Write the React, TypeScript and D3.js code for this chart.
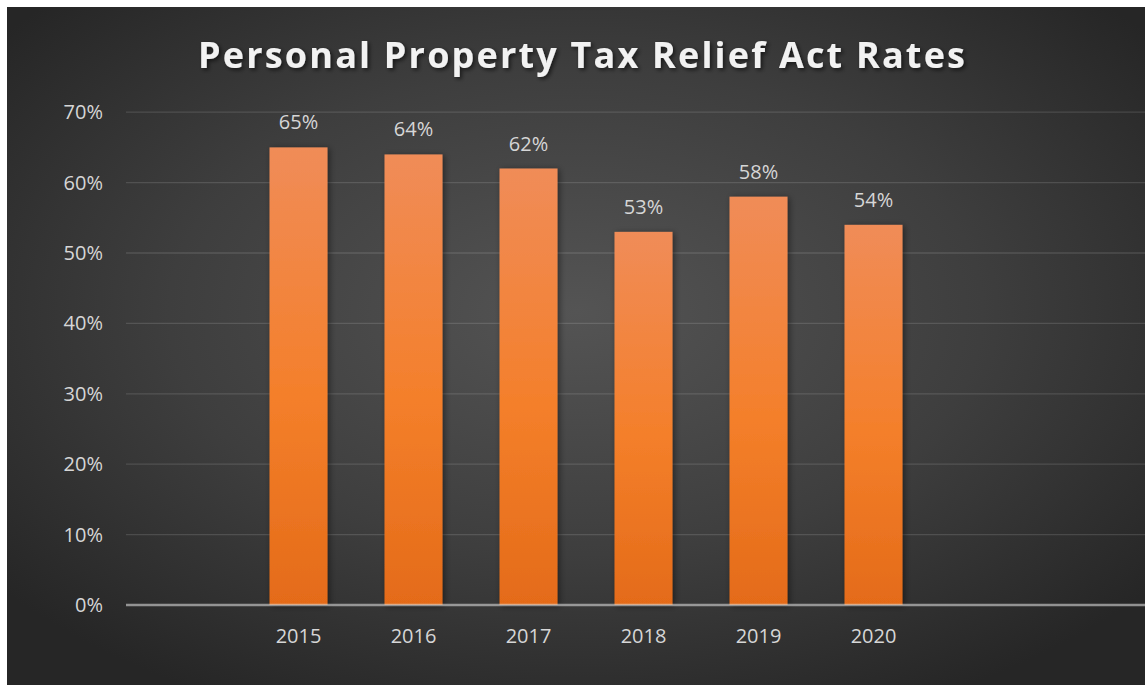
import React from "react";
import * as d3 from "d3";

const title = "Personal Property Tax Relief Act Rates";
const years = ["2015", "2016", "2017", "2018", "2019", "2020"];
const rates = [65, 64, 62, 53, 58, 54];
const yTicks = [0, 10, 20, 30, 40, 50, 60, 70];

const W = 1138;
const H = 678;
// offsets relative to svg placed at page (7,7)
const OX = 7;
const OY = 7;

export default function App() {
  const plotLeft = 126 - OX;
  const plotRight = W;
  const step = 115;
  const x = d3
    .scaleBand<string>()
    .domain(years)
    .range([plotLeft + step, plotLeft + step * 7])
    .paddingInner(0.496)
    .paddingOuter(0.248);
  const y = d3.scaleLinear().domain([0, 70]).range([605 - OY, 112.2 - OY]);
  const font = "'Open Sans', sans-serif";

  return (
    <svg
      width={W}
      height={H}
      style={{ position: "absolute", left: OX, top: OY, display: "block" }}
    >
      <defs>
        <radialGradient id="bg" cx="50%" cy="45%" r="65%">
          <stop offset="0%" stopColor="#545454" />
          <stop offset="55%" stopColor="#3e3e3e" />
          <stop offset="100%" stopColor="#262626" />
        </radialGradient>
        <linearGradient id="bar" x1="0" y1="0" x2="0" y2="1">
          <stop offset="0%" stopColor="#F08C58" />
          <stop offset="55%" stopColor="#F47F2A" />
          <stop offset="100%" stopColor="#E46B19" />
        </linearGradient>
        <filter id="barShadow" x="-30%" y="-10%" width="160%" height="120%">
          <feDropShadow dx="2" dy="1" stdDeviation="3" floodColor="#000" floodOpacity="0.45" />
        </filter>
        <filter id="titleShadow" x="-5%" y="-30%" width="110%" height="160%">
          <feDropShadow dx="2" dy="2" stdDeviation="2" floodColor="#000" floodOpacity="0.6" />
        </filter>
      </defs>
      <rect x={0} y={0} width={W} height={H} fill="url(#bg)" />
      <text
        x={198 - OX}
        y={68 - OY}
        fill="#F2F2F2"
        fontFamily={font}
        fontWeight={700}
        fontSize={36}
        textLength={767}
        lengthAdjust="spacing"
        filter="url(#titleShadow)"
      >
        {title}
      </text>
      {yTicks.map((t) => (
        <g key={t}>
          {t > 0 && (
            <line
              x1={plotLeft}
              x2={plotRight}
              y1={y(t)}
              y2={y(t)}
              stroke="#ffffff"
              strokeOpacity={0.13}
              strokeWidth={1.3}
            />
          )}
          <text
            x={103 - OX}
            y={y(t) + 7}
            textAnchor="end"
            fill="#D6D6D6"
            fontFamily={font}
            fontSize={20}
          >
            {t}%
          </text>
        </g>
      ))}
      {years.map((yr, i) => (
        <g key={yr}>
          <rect
            x={x(yr)}
            y={y(rates[i])}
            width={x.bandwidth()}
            height={y(0) - y(rates[i])}
            fill="url(#bar)"
            filter="url(#barShadow)"
          />
          <text
            x={(x(yr) as number) + x.bandwidth() / 2}
            y={y(rates[i]) - 18}
            textAnchor="middle"
            fill="#D6D6D6"
            fontFamily={font}
            fontSize={20}
          >
            {rates[i]}%
          </text>
          <text
            x={(x(yr) as number) + x.bandwidth() / 2}
            y={643 - OY}
            textAnchor="middle"
            fill="#D6D6D6"
            fontFamily={font}
            fontSize={20}
          >
            {yr}
          </text>
        </g>
      ))}
      <line
        x1={plotLeft}
        x2={plotRight}
        y1={y(0)}
        y2={y(0)}
        stroke="#D9D9D9"
        strokeOpacity={0.6}
        strokeWidth={2.5}
      />
    </svg>
  );
}
